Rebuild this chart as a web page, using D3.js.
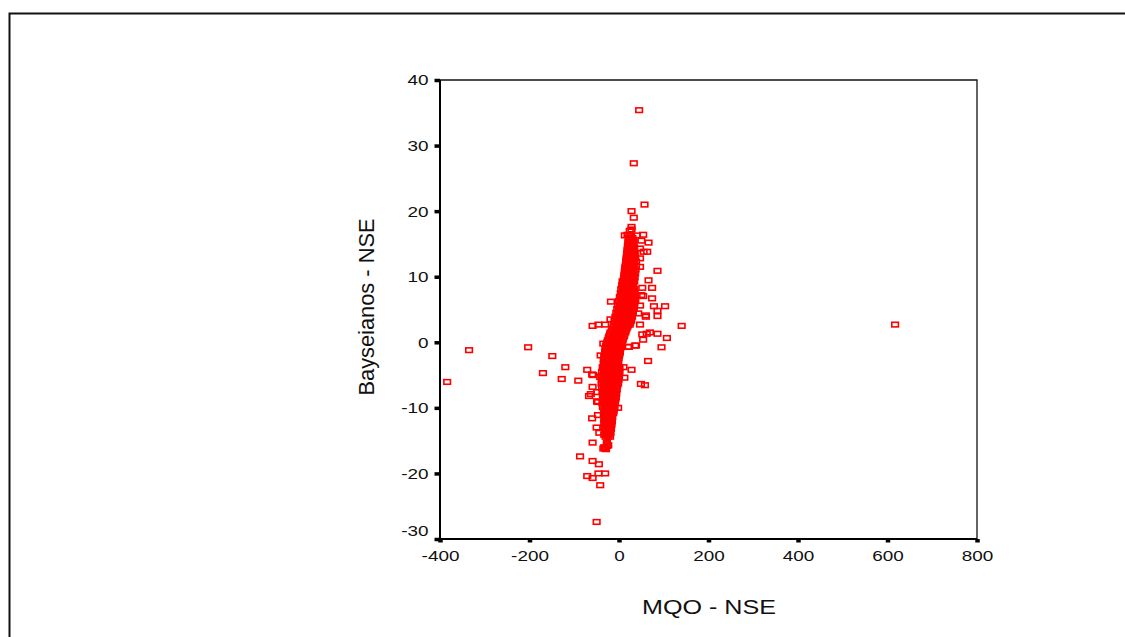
<!DOCTYPE html>
<html><head><meta charset="utf-8">
<script src="https://cdn.jsdelivr.net/npm/d3@7/dist/d3.min.js"></script>
<style>html,body{margin:0;padding:0;background:#fff}svg{display:block}text{font-family:"Liberation Sans",Arial,sans-serif;fill:#111}</style>
</head><body><svg id="c" width="1125" height="637"></svg>
<script>
const xTicks=[-400,-200,0,200,400,600,800];
const yTicks=[40,30,20,10,0,-10,-20,-30];
const xTitle="MQO - NSE", yTitle="Bayseianos - NSE";
const outlierMqo=[45,33,57,28,33,28,54,19,66,63,55,86,66,52,74,74,54,-18,103,78,86,86,60,140,-59,-46,-31,-19,47,69,62,86,52,107,54,38,95,65,-203,-335,-384,-149,-120,-170,-128,-91,-71,-60,-59,-63,-67,-48,-60,-50,-44,-59,-87,-59,-45,-46,-31,-71,-59,-42,-50,-27,-35,-31,-24,-2,10,28,12,49,58,22,617,-27,-33,-29,-26,-47,-35,-41,-36,-58,-42,-49,-49,-47,36,20,28,13,47,47,24,40,50,47,50,47,43,60];
const outlierBayes=[35.4,27.3,21,20,19,17.2,16.4,16.4,15.2,13.8,13.8,10.9,9.45,8.3,8.3,6.7,7.05,6.2,5.5,5.5,4.8,4,3.9,2.5,2.5,2.7,2.7,3.5,2.7,1.5,1.3,1.3,1.2,.65,.4,-.5,-.76,-2.85,-.76,-1.2,-6.05,-2.1,-3.8,-4.7,-5.6,-5.85,-4.2,-4.9,-6.8,-7.9,-8.2,-9.1,-11.6,-13,-13.8,-15.3,-17.4,-18.1,-18.6,-20,-20,-20.4,-20.7,-21.8,-27.4,-15.5,-16.2,-16.2,-15.7,-10,-3.8,-4.2,-5.4,-6.35,-6.55,-.7,2.7,-15.3,-16,-16.3,-15.8,-9.1,-.2,-2,-3.8,-5,-5.3,-7.6,-9,-11.1,-.5,-.7,17.6,16.3,14.3,11.5,17,16.3,15.5,12.8,7.2,5.6,4.4,4.1];
const coreBayes=[-14.4,-14.1,-13.8,-13.5,-13.2,-12.9,-12.6,-12.3,-12,-11.7,-11.4,-11.1,-10.8,-10.5,-10.2,-9.9,-9.6,-9.3,-9,-8.7,-8.4,-8.1,-7.8,-7.5,-7.2,-6.9,-6.6,-6.3,-6,-5.7,-5.4,-5.1,-4.8,-4.5,-4.2,-3.9,-3.6,-3.3,-3,-2.7,-2.4,-2.1,-1.8,-1.5,-1.2,-.9,-.6,-.3,0,.3,.6,.9,1.2,1.5,1.8,2.1,2.4,2.7,3,3.3,3.6,3.9,4.2,4.5,4.8,5.1,5.4,5.7,6,6.3,6.6,6.9,7.2,7.5,7.8,8.1,8.4,8.7,9,9.3,9.6,9.9,10.2,10.5,10.8,11.1,11.4,11.7,12,12.3,12.6,12.9,13.2,13.5,13.8,14.1,14.4,14.7,15,15.3,15.6,15.9,16.2];
const coreMqo=[[-30,-25,-20],[-33,-27,-22],[-31,-25,-19],[-32,-27,-23,-20],[-30,-24,-18],[-33,-28,-22,-18],[-31,-26,-20,-17],[-33,-28,-22,-17],[-30,-25,-19,-16],[-33,-27,-21,-16],[-31,-25,-18,-15],[-34,-28,-22,-16],[-32,-26,-19,-13],[-33,-27,-20,-12],[-31,-25,-18,-12],[-36,-29,-22,-15,-10],[-33,-26,-19,-12],[-37,-30,-23,-16,-9],[-34,-27,-20,-13],[-35,-28,-21,-13,-8],[-33,-26,-19,-12,-7],[-36,-29,-21,-14,-8],[-33,-25,-18,-11,-6],[-37,-30,-22,-15,-7],[-34,-26,-19,-12,-5],[-38,-30,-22,-14,-6],[-34,-27,-19,-11,-4],[-39,-31,-23,-15,-7,-2],[-35,-27,-19,-11,-3],[-38,-30,-22,-14,-6,-1],[-35,-27,-19,-10,-2],[-39,-31,-22,-14,-6,0],[-34,-26,-17,-9,-1],[-38,-29,-21,-12,-4,1],[-32,-24,-15,-7,0],[-36,-27,-18,-10,-2,1],[-33,-25,-17,-9,-2],[-34,-26,-18,-10,-3],[-33,-25,-17,-9,-2],[-34,-26,-18,-10,-2],[-32,-24,-16,-8,-1],[-33,-25,-17,-9,0],[-31,-23,-15,-7,1],[-31,-23,-15,-6,2],[-30,-22,-14,-6,2],[-30,-21,-13,-5,3],[-29,-21,-12,-4,4],[-28,-19,-11,-3,5],[-26,-18,-10,-2,6],[-25,-17,-8,0,8],[-23,-15,-7,1,9],[-22,-14,-5,3,11],[-20,-12,-4,4,12],[-19,-10,-2,6,14],[-16,-8,0,8,15],[-14,-6,2,10,17],[-11,-3,4,12,19],[-12,-3,6,14,21,24],[-7,2,10,18,25],[-10,-1,8,16,23,27],[-5,4,12,20,27],[-8,1,10,18,25,29],[-3,6,14,22,29],[-6,3,12,20,27,31],[-1,8,16,24,31],[-4,5,14,22,29,33],[1,10,18,26,33],[-2,7,16,24,31,34],[3,12,20,28,34],[0,9,18,26,33,36],[5,13,21,29,36],[2,11,19,27,34],[6,14,22,30,36],[4,12,20,28,35],[8,15,23,31],[5,13,21,29,34],[9,16,24,31],[7,14,22,30],[10,17,25,32],[8,15,23,30,34],[11,18,25,32],[12,16,24,31,35],[12,19,26,33],[13,17,24,31,36],[13,19,26,32],[14,18,25,31,37],[14,20,27,32],[15,19,26,31,38],[16,21,27,33],[16,20,26,32,38],[17,21,27,33],[17,20,26,32,36],[18,22,28,34],[18,21,27,31,35],[19,23,29,34],[19,22,28,33],[20,24,30,34],[20,23,29],[21,25,30],[21,24,29,33],[22,25,31],[22,25,30],[23,27]];

const svg=d3.select("#c");
const x=d3.scaleLinear().domain([-400,800]).range([440,977]);
const y=d3.scaleLinear().domain([40,-30]).range([80,539]);
const hy=d3.format("d");
const fmt=d=>hy(d).replace("\u2212","-");

svg.append("path").attr("d","M9.5 637V13.5H1125").attr("fill","none").attr("stroke","#111").attr("stroke-width",2);

const pts=[];
coreBayes.forEach((b,i)=>coreMqo[i].forEach(m=>pts.push([m,b])));
outlierMqo.forEach((m,i)=>pts.push([m,outlierBayes[i]]));

svg.append("g").selectAll("rect").data(pts).join("rect")
 .attr("x",d=>x(d[0])-3.3).attr("y",d=>y(d[1])-2.3).attr("width",6.6).attr("height",4.6)
 .attr("fill","none").attr("stroke","#ff0000").attr("stroke-width",1.6);

const ax=svg.append("g").attr("transform","translate(0,539)")
 .call(d3.axisBottom(x).tickValues(xTicks).tickSize(3.5).tickPadding(7).tickFormat(fmt));
const ay=svg.append("g").attr("transform","translate(440,0)")
 .call(d3.axisLeft(y).tickValues(yTicks).tickSize(5.5).tickPadding(7).tickFormat(fmt));
ax.selectAll("line").attr("stroke-width",4.5);
ay.selectAll("line").attr("stroke-width",3.5);
[ax,ay].forEach(g=>{
 g.select(".domain").remove();
 g.selectAll("line").attr("stroke","#000");
 g.selectAll("text").attr("font-size",15.5).style("font-family",'"Liberation Sans",Arial,sans-serif');
});
ax.selectAll("text").attr("y",11);
ay.selectAll("text").each(function(){
 d3.select(this).attr("x",-11.5);
});
ay.selectAll(".tick text").filter(d=>d===-30).attr("dy","-0.22em");
[ax,ay].forEach(g=>g.selectAll("text").each(function(){
 const t=d3.select(this);
 t.attr("textLength",this.getComputedTextLength()*1.22).attr("lengthAdjust","spacingAndGlyphs");
}));

svg.append("path").attr("d",`M${x(-400)} ${y(40)}H${x(800)}V${y(-30)}`).attr("fill","none").attr("stroke","#111").attr("stroke-width",1.3);
svg.append("path").attr("d",`M${x(-400)} ${y(40)}V${y(-30)}H${x(800)}`).attr("fill","none").attr("stroke","#000").attr("stroke-width",2);

svg.append("text").attr("x",709).attr("y",614).attr("text-anchor","middle").attr("font-size",20.5).attr("textLength",134).attr("lengthAdjust","spacingAndGlyphs").text(xTitle);
svg.append("text").attr("transform","translate(374,307) rotate(-90)").attr("text-anchor","middle").attr("font-size",21.5).attr("textLength",177).attr("lengthAdjust","spacingAndGlyphs").text(yTitle);
</script></body></html>
